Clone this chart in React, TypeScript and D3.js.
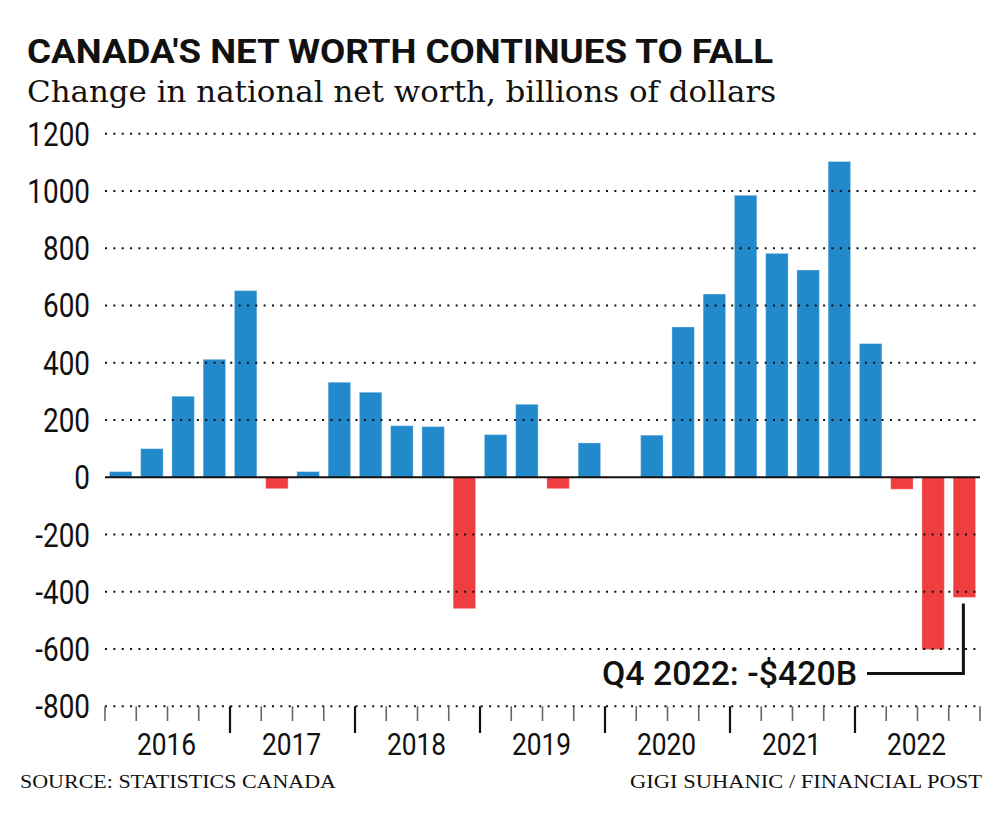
import React from "react";
import * as d3 from "d3";

const years = ["2016", "2017", "2018", "2019", "2020", "2021", "2022"];
const quarters = ["Q1", "Q2", "Q3", "Q4"];
const values = [
  20, 100, 283, 412, 652,
  -40, 20, 332, 297, 180, 177,
  -459, 149, 255, -40, 120, 0,
  147, 525, 640, 985, 782, 724, 1103,
  467, -42, -602, -420,
];
// values start at 2016 Q1
const yTicks = [1200, 1000, 800, 600, 400, 200, 0, -200, -400, -600, -800];

const W = 1000;
const H = 819;
const BLUE = "#2289ca";
const RED = "#ef3e3f";

export default function App() {
  const labels: string[] = [];
  years.forEach((yr) => quarters.forEach((q) => labels.push(`${q} ${yr}`)));
  const data = labels.map((l, i) => ({ label: l, value: values[i] }));

  const x = d3
    .scaleBand<string>()
    .domain(labels)
    .range([105, 980])
    .paddingInner(0.28)
    .paddingOuter(0.14);
  const y = d3.scaleLinear().domain([-800, 1200]).range([706.3, 133.7]);
  const step = x.step();
  const x0 = 105;

  const last = data[data.length - 1];
  const lastCx = (x(last.label) as number) + x.bandwidth() / 2;

  const tickXs = d3.range(labels.length + 1).map((k) => x0 + k * step);

  const numStyle: React.CSSProperties = { fontFamily: "Roboto, sans-serif" };

  return (
    <svg width={W} height={H} style={{ display: "block", margin: "-8px" }} viewBox={`0 0 ${W} ${H}`}>
      <rect x={0} y={0} width={W} height={H} fill="#fff" />
      <text
        x={27}
        y={63}
        fontFamily="Roboto, sans-serif"
        fontWeight={700}
        fontSize={33}
        textLength={746}
        lengthAdjust="spacingAndGlyphs"
        fill="#111"
      >
        CANADA'S NET WORTH CONTINUES TO FALL
      </text>
      <text
        x={27}
        y={102}
        fontFamily="'DejaVu Serif', 'Liberation Serif', serif"
        fontSize={30}
        textLength={749}
        lengthAdjust="spacingAndGlyphs"
        fill="#111"
      >
        Change in national net worth, billions of dollars
      </text>

      {/* bars */}
      {data.map((d) => (
        <rect
          key={d.label}
          x={x(d.label)}
          width={x.bandwidth()}
          y={y(Math.max(0, d.value))}
          height={Math.abs(y(d.value) - y(0))}
          fill={d.value >= 0 ? BLUE : RED}
          stroke="rgba(255,255,255,0.35)"
          strokeWidth={1}
        />
      ))}

      {/* gridlines */}
      {yTicks.map((t) =>
        t === 0 ? null : (
          <line
            key={t}
            x1={x0}
            x2={980}
            y1={y(t)}
            y2={y(t)}
            stroke="#111"
            strokeWidth={2}
            strokeDasharray="2 6.35"
          />
        )
      )}
      <line x1={x0} x2={980} y1={y(0)} y2={y(0)} stroke="#111" strokeWidth={2} />

      {/* y labels */}
      {yTicks.map((t) => (
        <text
          key={t}
          transform={`translate(90,${y(t) + 12}) scale(0.82,1)`}
          textAnchor="end"
          fontSize={34}
          style={numStyle}
          fill="#111"
        >
          {t}
        </text>
      ))}

      {/* x ticks */}
      {tickXs.map((tx, k) => {
        const major = k % 4 === 0 && k !== 0 && k !== labels.length;
        return (
          <line
            key={k}
            x1={tx}
            x2={tx}
            y1={y(-800)}
            y2={major ? 733 : 721}
            stroke={major ? "#111" : "#666"}
            strokeWidth={major ? 2.2 : 1.6}
          />
        );
      })}
      {years.map((yr, i) => {
        const cx = x0 + (i * 4 + 2) * step;
        return (
          <text
            key={yr}
            transform={`translate(${cx - 1},755) scale(0.85,1)`}
            textAnchor="middle"
            fontSize={31}
            style={numStyle}
            fill="#111"
          >
            {yr}
          </text>
        );
      })}

      {/* annotation */}
      <polyline
        points={`867,673.5 ${lastCx - 1},673.5 ${lastCx - 1},${y(last.value) + 6}`}
        fill="none"
        stroke="#111"
        strokeWidth={3}
      />
      <text
        x={602}
        y={685}
        fontFamily="Roboto, sans-serif"
        fontWeight={500}
        fontSize={33}
        textLength={255}
        lengthAdjust="spacingAndGlyphs"
        fill="#111"
      >
        Q4 2022: -$420B
      </text>

      {/* footer */}
      <text
        x={20}
        y={788}
        fontFamily="'Liberation Serif', serif"
        fontSize={19}
        textLength={316}
        lengthAdjust="spacingAndGlyphs"
        fill="#111"
      >
        SOURCE: STATISTICS CANADA
      </text>
      <text
        x={630}
        y={788}
        fontFamily="'Liberation Serif', serif"
        fontSize={19}
        textLength={352}
        lengthAdjust="spacingAndGlyphs"
        fill="#111"
      >
        GIGI SUHANIC / FINANCIAL POST
      </text>
    </svg>
  );
}
